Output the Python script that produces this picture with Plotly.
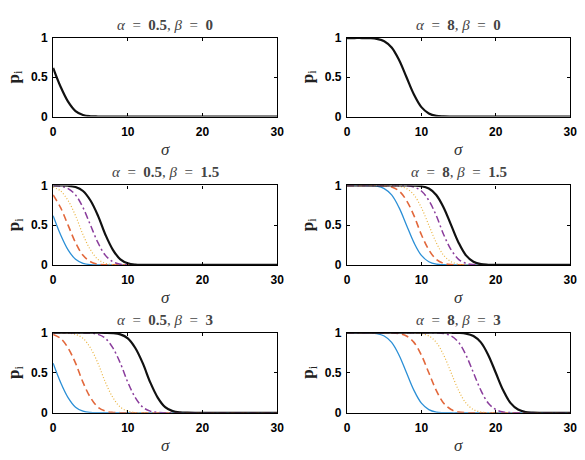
import plotly.graph_objects as go

# sigma grid
SIGMA = list(range(31))

# curves (p_i vs sigma), named by where they cross 0.5
C05 = [0.62, 0.38, 0.19, 0.07, 0.02, 0.004, 0.001, 0, 0, 0, 0, 0, 0, 0, 0, 0, 0, 0, 0, 0, 0, 0, 0, 0, 0, 0, 0, 0, 0, 0, 0]
C2 = [0.88, 0.72, 0.50, 0.28, 0.12, 0.04, 0.009, 0.002, 0, 0, 0, 0, 0, 0, 0, 0, 0, 0, 0, 0, 0, 0, 0, 0, 0, 0, 0, 0, 0, 0, 0]
C35 = [0.98, 0.93, 0.81, 0.62, 0.38, 0.19, 0.07, 0.02, 0.004, 0.001, 0, 0, 0, 0, 0, 0, 0, 0, 0, 0, 0, 0, 0, 0, 0, 0, 0, 0, 0, 0, 0]
C5 = [0.998, 0.99, 0.96, 0.88, 0.72, 0.50, 0.28, 0.12, 0.04, 0.009, 0.002, 0, 0, 0, 0, 0, 0, 0, 0, 0, 0, 0, 0, 0, 0, 0, 0, 0, 0, 0, 0]
C65 = [1, 0.999, 0.996, 0.98, 0.93, 0.81, 0.62, 0.38, 0.19, 0.07, 0.02, 0.004, 0.001, 0, 0, 0, 0, 0, 0, 0, 0, 0, 0, 0, 0, 0, 0, 0, 0, 0, 0]
C8 = [1, 1, 1, 0.998, 0.99, 0.96, 0.88, 0.72, 0.50, 0.28, 0.12, 0.04, 0.009, 0.002, 0, 0, 0, 0, 0, 0, 0, 0, 0, 0, 0, 0, 0, 0, 0, 0, 0]
C95 = [1, 1, 1, 1, 0.999, 0.996, 0.98, 0.93, 0.81, 0.62, 0.38, 0.19, 0.07, 0.02, 0.004, 0.001, 0, 0, 0, 0, 0, 0, 0, 0, 0, 0, 0, 0, 0, 0, 0]
C11 = [1, 1, 1, 1, 1, 1, 0.998, 0.99, 0.96, 0.88, 0.72, 0.50, 0.28, 0.12, 0.04, 0.009, 0.002, 0, 0, 0, 0, 0, 0, 0, 0, 0, 0, 0, 0, 0, 0]
C125 = [1, 1, 1, 1, 1, 1, 1, 0.999, 0.996, 0.98, 0.93, 0.81, 0.62, 0.38, 0.19, 0.07, 0.02, 0.004, 0.001, 0, 0, 0, 0, 0, 0, 0, 0, 0, 0, 0, 0]
C14 = [1, 1, 1, 1, 1, 1, 1, 1, 1, 0.998, 0.99, 0.96, 0.88, 0.72, 0.50, 0.28, 0.12, 0.04, 0.009, 0.002, 0, 0, 0, 0, 0, 0, 0, 0, 0, 0, 0]
C17 = [1, 1, 1, 1, 1, 1, 1, 1, 1, 1, 1, 1, 0.998, 0.99, 0.96, 0.88, 0.72, 0.50, 0.28, 0.12, 0.04, 0.009, 0.002, 0, 0, 0, 0, 0, 0, 0, 0]
C20 = [1, 1, 1, 1, 1, 1, 1, 1, 1, 1, 1, 1, 1, 1, 1, 0.998, 0.99, 0.96, 0.88, 0.72, 0.50, 0.28, 0.12, 0.04, 0.009, 0.002, 0, 0, 0, 0, 0]

ALPHAS = ["0.5", "8", "0.5", "8", "0.5", "8"]
BETAS = ["0", "0", "1.5", "1.5", "3", "3"]
XTICKS = [0, 10, 20, 30]
YTICKS = [0, 0.5, 1]
YTICKTEXT = ["0", "0.5", "1"]

# series for each panel (None = not drawn)
PANELS = [
    [None, None, None, None, C05],
    [None, None, None, None, C8],
    [C05, C2, C35, C5, C65],
    [C8, C95, C11, C125, C14],
    [C05, C35, C65, C95, C125],
    [C8, C11, C14, C17, C20],
]

STYLES = [
    dict(color="#2b8fd6", width=1.3, dash="solid"),
    dict(color="#e2683c", width=1.6, dash="7px,4px"),
    dict(color="#eab543", width=1.2, dash="1px,2px"),
    dict(color="#8a3d9c", width=1.5, dash="7px,3px,2px,3px"),
    dict(color="#111111", width=2.2, dash="solid"),
]

W, H = 585, 460
XDOM = [(51 / W, 279 / W), (350 / W, 577 / W)]
YPX = [(32, 113), (184, 266), (336, 418.5)]
YDOM = [(1 - b / H, 1 - t / H) for t, b in YPX]

fig = go.Figure()
layout = dict(
    width=W, height=H, margin=dict(l=0, r=0, t=0, b=0),
    paper_bgcolor="white", plot_bgcolor="white", showlegend=False,
)
annotations = []
tickfont = dict(family="Liberation Sans", size=12, color="black", weight="bold")
SP = "\u2002"

for i in range(6):
    r, c = divmod(i, 2)
    n = i + 1
    xa = "x" if n == 1 else f"x{n}"
    ya = "y" if n == 1 else f"y{n}"
    for k, series in enumerate(PANELS[i]):
        if series is None:
            continue
        st = STYLES[k]
        fig.add_trace(go.Scatter(
            x=SIGMA, y=series, mode="lines", xaxis=xa, yaxis=ya,
            line=dict(color=st["color"], width=st["width"], dash=st["dash"],
                      shape="spline", smoothing=1.0),
            hoverinfo="skip",
        ))
    common = dict(showline=True, linecolor="black", linewidth=1.2, mirror="ticks",
                  ticks="inside", ticklen=3, tickwidth=1, tickcolor="black",
                  showgrid=False, zeroline=False, tickfont=tickfont)
    layout[f"xaxis{n if n > 1 else ''}"] = dict(
        domain=list(XDOM[c]), anchor=ya, range=[0, 30], tickvals=XTICKS,
        ticktext=[str(v) for v in XTICKS], ticklabelstandoff=4, **common)
    layout[f"yaxis{n if n > 1 else ''}"] = dict(
        domain=list(YDOM[r]), anchor=xa, range=[0, 1], tickvals=YTICKS,
        ticktext=YTICKTEXT, ticklabelstandoff=2, **common)

    xc = (XDOM[c][0] + XDOM[c][1]) / 2
    # title
    annotations.append(dict(
        text=f"<i>α</i>{SP}={SP}<b>{ALPHAS[i]}</b>, <i>β</i>{SP}={SP}<b>{BETAS[i]}</b>",
        x=xc, y=YDOM[r][1], xref="paper", yref="paper", xanchor="center",
        yanchor="middle", yshift=13, showarrow=False,
        font=dict(family="Liberation Serif", size=15, color="#444444")))
    # x label
    annotations.append(dict(
        text="<i>σ</i>", x=xc, y=YDOM[r][0], xref="paper", yref="paper",
        xanchor="center", yanchor="middle", yshift=-33, showarrow=False,
        font=dict(family="Liberation Serif", size=17, color="#333333")))
    # y label
    annotations.append(dict(
        text="<b>p</b><sub>i</sub>", x=XDOM[c][0], y=(YDOM[r][0] + YDOM[r][1]) / 2,
        xref="paper", yref="paper", xanchor="center", yanchor="middle",
        xshift=-38, textangle=-90, showarrow=False,
        font=dict(family="Liberation Serif", size=17, color="#222222")))

layout["annotations"] = annotations
fig.update_layout(**layout)
fig.write_html("out.html")
